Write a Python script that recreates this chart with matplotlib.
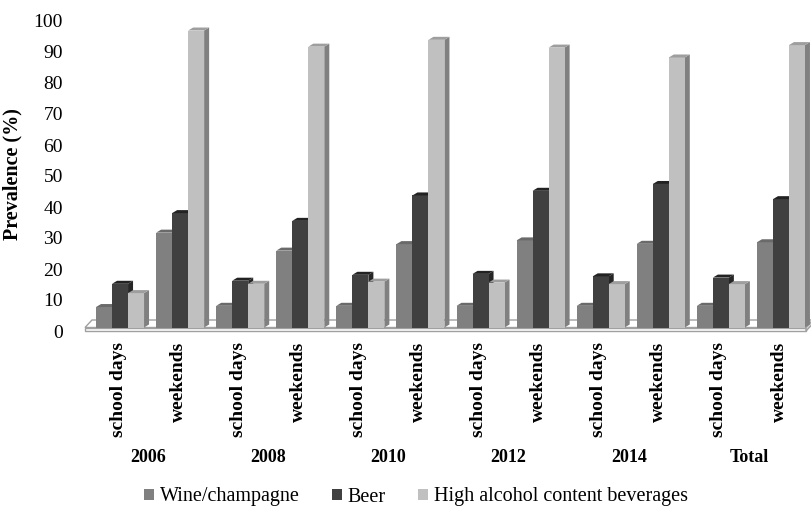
import matplotlib
matplotlib.use("Agg")
import matplotlib.pyplot as plt
import matplotlib.transforms as mtransforms
from matplotlib.patches import Polygon, Patch

plt.rcParams['font.family'] = ['Liberation Serif', 'DejaVu Serif']

years = ['2006', '2008', '2010', '2012', '2014', 'Total']
periods = ['school days', 'weekends']

# prevalence (%), order: school days / weekends for each year
wine = [6.6, 30.6, 7.0, 24.8, 7.0, 26.9, 7.0, 28.1, 7.0, 27.0, 7.0, 27.5]
beer = [14.1, 36.9, 15.1, 34.4, 17.0, 42.6, 17.3, 44.1, 16.5, 46.3, 16.1, 41.4]
high = [11.1, 95.8, 14.1, 90.6, 14.8, 92.8, 14.5, 90.3, 14.0, 87.1, 14.0, 91.1]

series = [
    ('Wine/champagne', wine, '#808080', '#5e5e5e', '#6a6a6a'),
    ('Beer', beer, '#404040', '#262626', '#222222'),
    ('High alcohol content beverages', high, '#c0c0c0', '#808080', '#9e9e9e'),
]

W, H = 812, 508
fig = plt.figure(figsize=(W / 100, H / 100), dpi=100)
ax_left, ax_w, ax_zero, ax_h = 85, 721, 331, 310
ax = fig.add_axes([ax_left / W, (H - ax_zero) / H, ax_w / W, ax_h / H])
ncat = len(wine)
ax.set_xlim(-0.5, ncat - 0.5)
ax.set_ylim(0, 100)
for s in ax.spines.values():
    s.set_visible(False)

# pixel -> data unit conversion
px_x = ncat / ax_w
px_y = 100 / ax_h

# floor (3D slab)
fx0, fx1 = -0.5, ncat - 0.5
front_top = 3.5 * px_y
back_dx, back_dy = 7 * px_x, 11 * px_y
floor_top = Polygon([(fx0, front_top), (fx1, front_top), (fx1 + back_dx, back_dy),
                     (fx0 + back_dx, back_dy)], closed=True, facecolor='white',
                    edgecolor='#a0a0a0', lw=1.0, clip_on=False, zorder=1)
floor_front = Polygon([(fx0, 0), (fx1, 0), (fx1, front_top), (fx0, front_top)], closed=True,
                      facecolor='white', edgecolor='#a0a0a0', lw=1.0, clip_on=False, zorder=1)
floor_side = Polygon([(fx1, 0), (fx1 + back_dx, back_dy - front_top), (fx1 + back_dx, back_dy),
                      (fx1, front_top)], closed=True, facecolor='#d8d8d8',
                     edgecolor='#a0a0a0', lw=1.0, clip_on=False, zorder=1)
for p in (floor_top, floor_front, floor_side):
    ax.add_patch(p)

# bars: front faces shifted into the floor, plus side and top faces
shift = mtransforms.ScaledTranslation(5 / 100, 3.5 / 100, fig.dpi_scale_trans)
trans = ax.transData + shift
bw = 16 * px_x
ddx, ddy = 5 * px_x, 3 * px_y
xs = list(range(ncat))
for k, (name, vals, c_front, c_side, c_top) in enumerate(series):
    offs = [x + (k - 1) * bw for x in xs]
    bars = ax.bar(offs, vals, width=bw, color=c_front, edgecolor='none',
                  transform=trans, zorder=3 + k, clip_on=False)
    for b in bars:
        x0, x1, h = b.get_x(), b.get_x() + b.get_width(), b.get_height()
        side = Polygon([(x1, 0), (x1 + ddx, ddy), (x1 + ddx, h + ddy), (x1, h)],
                       closed=True, facecolor=c_side, edgecolor='none',
                       transform=trans, zorder=2.5 + k, clip_on=False)
        top = Polygon([(x0, h), (x1, h), (x1 + ddx, h + ddy), (x0 + ddx, h + ddy)],
                      closed=True, facecolor=c_top, edgecolor='none',
                      transform=trans, zorder=3 + k, clip_on=False)
        ax.add_patch(side)
        ax.add_patch(top)

# axes text
ax.set_yticks(range(0, 101, 10))
ax.tick_params(axis='y', length=0, pad=16, labelsize=14)
ax.set_xticks(xs)
ax.set_xticklabels(periods * len(years), rotation=90, fontweight='bold', fontsize=14)
ax.tick_params(axis='x', length=0, pad=8)
lbl_shift = mtransforms.ScaledTranslation(3 / 100, 0, fig.dpi_scale_trans)
for lbl in ax.get_xticklabels():
    lbl.set_transform(lbl.get_transform() + lbl_shift)
ax.set_ylabel('Prevalence (%)', fontweight='bold', fontsize=14.5)
ax.yaxis.set_label_coords((22 - ax_left) / ax_w, (ax_zero - 174) / ax_h)

blend = mtransforms.blended_transform_factory(ax.transData, ax.transAxes) + lbl_shift
for i, yr in enumerate(years):
    ax.text(2 * i + 0.5, (ax_zero - 457) / ax_h, yr, transform=blend, ha='center',
            va='center', fontweight='bold', fontsize=13)

handles = [Patch(facecolor=c, edgecolor='none', label=n) for n, _, c, _, _ in series]
fig.legend(handles=handles, loc='center', bbox_to_anchor=(416 / W, (H - 497) / H),
           ncol=3, frameon=False, fontsize=14.5, handlelength=0.5, handleheight=0.5,
           handletextpad=0.3, columnspacing=1.6, borderpad=0)

fig.savefig('out.png', dpi=100)
